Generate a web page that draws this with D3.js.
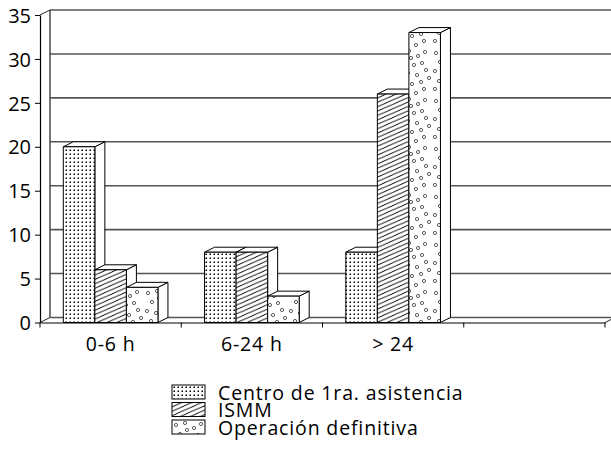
<!DOCTYPE html>
<html>
<head>
<meta charset="utf-8">
<script src="https://cdn.jsdelivr.net/npm/d3@7"></script>
<style>
  html, body { margin: 0; padding: 0; background: #fff; }
  svg { display: block; }
  text { font-family: "Open Sans", sans-serif; fill: #000; }
</style>
</head>
<body>
<svg id="chart" width="611" height="457"></svg>
<script>
// Time intervals on the x axis (the last slot is left empty)
const categories = ["0-6 h", "6-24 h", "> 24", ""];
// Series names, in legend order
const seriesNames = ["Centro de 1ra. asistencia", "ISMM", "Operación definitiva"];
// Values per series, one per interval
const centro = [20, 8, 8];
const ismm = [6, 8, 26];
const operacion = [4, 3, 33];
const yTicks = [0, 5, 10, 15, 20, 25, 30, 35];

const seriesValues = [centro, ismm, operacion];
const patternIds = ["pat-dots", "pat-hatch", "pat-circles"];
const fontFamily = "'Open Sans', sans-serif";

const svg = d3.select("#chart");
const plotLeft = 40, plotRight = 605, plotBottom = 322.5, plotTop = 15;
const dx = 10, dy = -5;           // depth offset of the 3D projection
const wallRight = 640;

const y = d3.scaleLinear().domain([0, 35]).range([plotBottom, plotTop]);
const x0 = d3.scaleBand().domain(categories).range([plotLeft, plotRight]).padding(0);
const bw = x0.bandwidth();
const x1 = d3.scaleBand().domain(d3.range(seriesNames.length))
  .range([bw * 0.165, bw * 0.835]).padding(0);

// ---- fill patterns ----
const defs = svg.append("defs");

const dots = defs.append("pattern").attr("id", "pat-dots")
  .attr("patternUnits", "userSpaceOnUse").attr("width", 4).attr("height", 4);
dots.append("rect").attr("width", 4).attr("height", 4).attr("fill", "#fff");
dots.append("rect").attr("x", 1.5).attr("y", 1.5).attr("width", 1.5).attr("height", 1.5).attr("fill", "#000");

const hatch = defs.append("pattern").attr("id", "pat-hatch")
  .attr("patternUnits", "userSpaceOnUse").attr("width", 10).attr("height", 4.4);
hatch.append("rect").attr("width", 10).attr("height", 4.4).attr("fill", "#fff");
hatch.append("path")
  .attr("d", "M0,4.4 L10,0 M-10,4.4 L0,0 M10,4.4 L20,0 M0,8.8 L10,4.4 M0,0 L10,-4.4")
  .attr("stroke", "#000").attr("stroke-width", 0.9);

// small open circles scattered over a fixed tile
const circleSpots = [
  [4, 5], [13, 3], [22, 8], [29, 4], [8, 14], [18, 17], [26, 15], [3, 23],
  [12, 25], [21, 27], [30, 22], [7, 33], [16, 36], [25, 34], [11, 43], [20, 45],
  [28, 41], [3, 41], [33, 30], [15, 10]
];
const circ = defs.append("pattern").attr("id", "pat-circles")
  .attr("patternUnits", "userSpaceOnUse").attr("width", 36).attr("height", 48);
circ.append("rect").attr("width", 36).attr("height", 48).attr("fill", "#fff");
circ.selectAll("circle").data(circleSpots).join("circle")
  .attr("cx", d => d[0]).attr("cy", d => d[1]).attr("r", 1.6)
  .attr("fill", "none").attr("stroke", "#333").attr("stroke-width", 0.8);

// ---- walls ----
const wallColor = "#555";
const walls = svg.append("g");
// back wall gridlines, including the top border
walls.selectAll("line.grid").data(yTicks.filter(d => d > 0)).join("line")
  .attr("class", "grid")
  .attr("x1", plotLeft + dx).attr("x2", wallRight)
  .attr("y1", d => y(d) + dy).attr("y2", d => y(d) + dy)
  .attr("stroke", wallColor).attr("stroke-width", 1.6);
// back wall left edge
walls.append("line")
  .attr("x1", plotLeft + dx).attr("x2", plotLeft + dx)
  .attr("y1", y(35) + dy).attr("y2", y(0) + dy)
  .attr("stroke", wallColor).attr("stroke-width", 1.6);
// floor back edge
walls.append("line")
  .attr("x1", plotLeft + dx).attr("x2", wallRight)
  .attr("y1", y(0) + dy).attr("y2", y(0) + dy)
  .attr("stroke", wallColor).attr("stroke-width", 1.4);
// depth edges at the top-left, bottom-left and bottom-right corners
[[plotLeft, y(35)], [plotLeft, y(0)], [plotRight, y(0)]].forEach(([px, py]) => {
  walls.append("line")
    .attr("x1", px).attr("y1", py).attr("x2", px + dx).attr("y2", py + dy)
    .attr("stroke", "#222").attr("stroke-width", 1);
});

// ---- bars ----
const bars = svg.append("g");
categories.forEach((cat, ci) => {
  seriesValues.forEach((vals, si) => {
    const v = vals[ci];
    if (v === undefined) return;
    const xa = x0(cat) + x1(si), xb = xa + x1.bandwidth();
    const yt = y(v), yb = y(0);
    const g = bars.append("g").attr("stroke", "#000").attr("stroke-width", 1)
      .attr("stroke-linejoin", "round");
    // right side face
    g.append("path")
      .attr("d", `M${xb},${yb} L${xb + dx},${yb + dy} L${xb + dx},${yt + dy} L${xb},${yt} Z`)
      .attr("fill", "#fff");
    // top face
    g.append("path")
      .attr("d", `M${xa},${yt} L${xa + dx},${yt + dy} L${xb + dx},${yt + dy} L${xb},${yt} Z`)
      .attr("fill", "#fff");
    // front face
    g.append("rect")
      .attr("x", xa).attr("y", yt).attr("width", xb - xa).attr("height", yb - yt)
      .attr("fill", `url(#${patternIds[si]})`);
  });
});

// ---- axes ----
const yAxis = svg.append("g").attr("transform", `translate(${plotLeft},0)`)
  .call(d3.axisLeft(y).tickValues(yTicks).tickSize(5).tickSizeOuter(0).tickPadding(4));
yAxis.select(".domain").attr("stroke", "#000").attr("stroke-width", 1.2);
yAxis.selectAll(".tick line").attr("stroke", "#000");
yAxis.selectAll(".tick text").attr("font-size", 20)
  .style("font-family", fontFamily).attr("dy", "0.36em");

const xAxis = svg.append("g").attr("transform", `translate(0,${plotBottom})`)
  .call(d3.axisBottom(x0).tickSize(0).tickSizeOuter(0).tickPadding(15));
xAxis.select(".domain").attr("stroke", "#000").attr("stroke-width", 1.2);
xAxis.selectAll(".tick text").attr("font-size", 19.5)
  .style("font-family", fontFamily).style("letter-spacing", "0.8px");
// tick marks at the interval boundaries
const bounds = categories.map(c => x0(c)).concat([x0(categories[categories.length - 1]) + bw]);
xAxis.selectAll("line.bound").data(bounds).join("line").attr("class", "bound")
  .attr("x1", d => d).attr("x2", d => d).attr("y1", 0).attr("y2", 5)
  .attr("stroke", "#000");

// ---- legend ----
const legend = svg.append("g").attr("transform", "translate(172,385)");
const rowH = 17.5;
seriesNames.forEach((name, i) => {
  const row = legend.append("g").attr("transform", `translate(0,${i * rowH})`);
  row.append("rect").attr("x", 0).attr("y", 0).attr("width", 33).attr("height", 14)
    .attr("fill", `url(#${patternIds[i]})`).attr("stroke", "#000").attr("stroke-width", 1);
  row.append("text").attr("x", 46).attr("y", 14.5).attr("font-size", 19.5)
    .style("letter-spacing", "0.85px").text(name);
});
</script>
</body>
</html>
